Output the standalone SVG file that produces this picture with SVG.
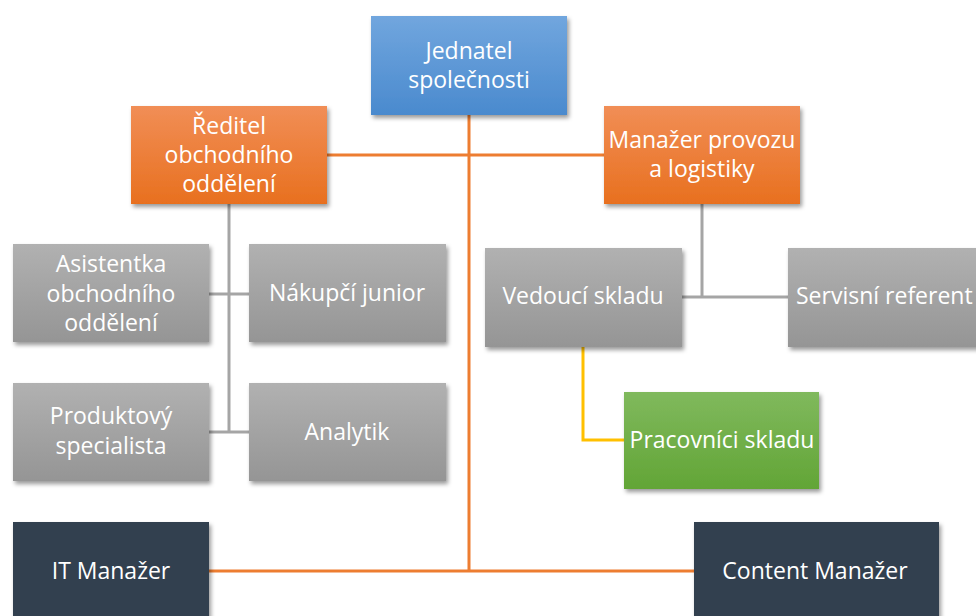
<svg xmlns="http://www.w3.org/2000/svg" width="976" height="616" viewBox="0 0 976 616">
<style>
.t{font-family:"Open Sans","Liberation Sans",sans-serif;font-size:23px;fill:#ffffff;text-anchor:middle}
.co{stroke:#ED7D31;stroke-width:3;fill:none}
.cg{stroke:#A5A5A5;stroke-width:3;fill:none}
.cy{stroke:#FFC000;stroke-width:3;fill:none}
</style>
<defs>
<filter id="sh" x="-10%" y="-10%" width="130%" height="130%">
<feDropShadow dx="2" dy="3" stdDeviation="2" flood-color="#000" flood-opacity="0.4"/>
</filter>
<linearGradient id="gBlue" x1="0" y1="0" x2="0" y2="1"><stop offset="0" stop-color="#71A6DE"/><stop offset="1" stop-color="#4A8ACE"/></linearGradient>
<linearGradient id="gOr" x1="0" y1="0" x2="0" y2="1"><stop offset="0" stop-color="#F18E56"/><stop offset="1" stop-color="#E8701F"/></linearGradient>
<linearGradient id="gGr" x1="0" y1="0" x2="0" y2="1"><stop offset="0" stop-color="#B1B1B1"/><stop offset="1" stop-color="#959595"/></linearGradient>
<linearGradient id="gGn" x1="0" y1="0" x2="0" y2="1"><stop offset="0" stop-color="#80B95D"/><stop offset="1" stop-color="#62A536"/></linearGradient>
</defs>
<g id="connectors">
<path class="co" d="M469 115 V571 M209 571 H694 M327 155 H604"/>
<path class="cg" d="M229 204 V432 M209 294 H249 M209 432 H249"/>
<path class="cg" d="M702 204 V297 M682 297 H788"/>
<path class="cy" d="M583 347 V440 H624"/>
</g>
<g id="n-jednatel"><rect x="371" y="16" width="196" height="99" fill="url(#gBlue)" filter="url(#sh)"/><text class="t" x="469" y="59">Jednatel</text><text class="t" x="469" y="88">společnosti</text></g>
<g id="n-reditel"><rect x="131" y="106" width="196" height="98" fill="url(#gOr)" filter="url(#sh)"/><text class="t" x="229" y="134">Ředitel</text><text class="t" x="229" y="163">obchodního</text><text class="t" x="229" y="192">oddělení</text></g>
<g id="n-manazer"><rect x="604" y="106" width="196" height="98" fill="url(#gOr)" filter="url(#sh)"/><text class="t" x="702" y="148">Manažer provozu</text><text class="t" x="702" y="177">a logistiky</text></g>
<g id="n-asistentka"><rect x="13" y="244" width="196" height="98" fill="url(#gGr)" filter="url(#sh)"/><text class="t" x="111" y="272">Asistentka</text><text class="t" x="111" y="302">obchodního</text><text class="t" x="111" y="331">oddělení</text></g>
<g id="n-nakupci"><rect x="249" y="244" width="197" height="98" fill="url(#gGr)" filter="url(#sh)"/><text class="t" x="347" y="301">Nákupčí junior</text></g>
<g id="n-produktovy"><rect x="13" y="383" width="196" height="98" fill="url(#gGr)" filter="url(#sh)"/><text class="t" x="111" y="424">Produktový</text><text class="t" x="111" y="454">specialista</text></g>
<g id="n-analytik"><rect x="249" y="383" width="197" height="98" fill="url(#gGr)" filter="url(#sh)"/><text class="t" x="347" y="440">Analytik</text></g>
<g id="n-vedouci"><rect x="485" y="248" width="197" height="99" fill="url(#gGr)" filter="url(#sh)"/><text class="t" x="583" y="304">Vedoucí skladu</text></g>
<g id="n-servisni"><rect x="788" y="248" width="200" height="99" fill="url(#gGr)" filter="url(#sh)"/><text class="t" x="796" y="304" style="text-anchor:start">Servisní referent</text></g>
<g id="n-pracovnici"><rect x="624" y="392" width="195" height="97" fill="url(#gGn)" filter="url(#sh)"/><text class="t" x="722" y="448">Pracovníci skladu</text></g>
<g id="n-it"><rect x="13" y="522" width="196" height="100" fill="#333F50" filter="url(#sh)"/><text class="t" x="111" y="579">IT Manažer</text></g>
<g id="n-content"><rect x="694" y="522" width="245" height="100" fill="#333F50" filter="url(#sh)"/><text class="t" x="815" y="579">Content Manažer</text></g>
</svg>
